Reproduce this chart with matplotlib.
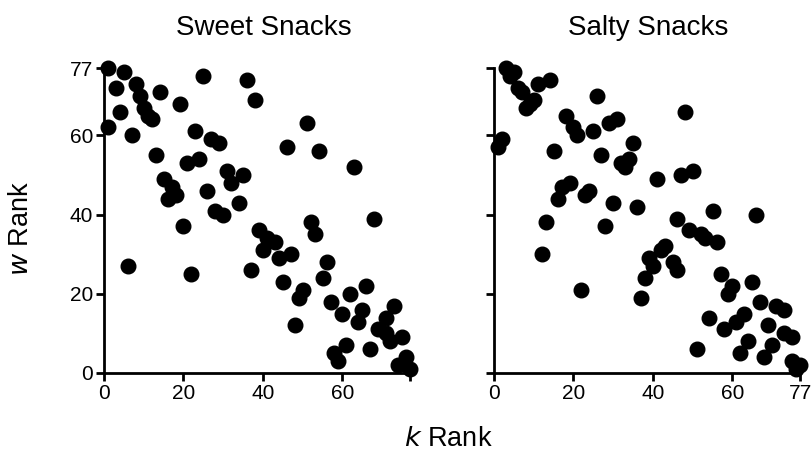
import numpy as np
import matplotlib.pyplot as plt

plt.rcParams["font.family"] = ["Liberation Sans", "DejaVu Sans"]

# k rank / w rank pairs
sweet_k = [1, 5, 3, 8, 9, 10, 11, 12, 14, 19, 4, 1, 7, 25, 36, 38, 13, 23, 27, 29,
           21, 24, 31, 35, 32, 15, 17, 18, 16, 26, 28, 30, 34, 20, 6, 22, 37, 39,
           40, 51, 46, 54, 63, 68, 52, 53, 41, 43, 47, 44, 56, 55, 45, 50, 49,
           57, 62, 66, 60, 65, 64, 48, 73, 71, 69, 71, 72, 75, 58, 59, 61, 67,
           76, 74, 77]
sweet_w = [77, 76, 72, 73, 70, 67, 65, 64, 71, 68, 66, 62, 60, 75, 74, 69, 55, 61,
           59, 58, 53, 54, 51, 50, 48, 49, 47, 45, 44, 46, 41, 40, 43, 37, 27, 25,
           26, 36, 31, 63, 57, 56, 52, 39, 38, 35, 34, 33, 30, 29, 28, 24, 23, 21,
           19, 18, 20, 22, 15, 16, 13, 12, 17, 14, 11, 10, 8, 9, 5, 3, 7, 6, 4, 2, 1]

salty_k = [3, 5, 4, 6, 7, 8, 9, 10, 11, 14, 2, 1, 18, 20, 21, 25, 26, 29, 31, 35,
           15, 27, 32, 34, 33, 17, 19, 16, 23, 24, 30, 36, 13, 28, 12, 22, 37,
           38, 39, 48, 41, 47, 50, 55, 66, 46, 49, 52, 53, 56, 43, 42, 45, 46,
           40, 57, 60, 59, 65, 67, 71, 73, 54, 58, 61, 63, 69, 73, 75, 51, 64,
           70, 62, 68, 75, 77, 76]
salty_w = [77, 76, 75, 72, 71, 67, 68, 69, 73, 74, 59, 57, 65, 62, 60, 61, 70, 63,
           64, 58, 56, 55, 53, 54, 52, 47, 48, 44, 45, 46, 43, 42, 38, 37, 30, 21,
           19, 24, 29, 66, 49, 50, 51, 41, 40, 39, 36, 35, 34, 33, 32, 31, 28, 26,
           27, 25, 22, 20, 23, 18, 17, 16, 14, 11, 13, 15, 12, 10, 9, 6, 8, 7, 5,
           4, 3, 2, 1]

titles = ["Sweet Snacks", "Salty Snacks"]
panels = [(sweet_k, sweet_w), (salty_k, salty_w)]

fig = plt.figure(figsize=(8.11, 4.53), dpi=100)
ax1 = fig.add_axes([104 / 811, 80 / 453, 306 / 811, 305 / 453])
ax2 = fig.add_axes([494 / 811, 80 / 453, 306 / 811, 305 / 453])

for i, ax in enumerate([ax1, ax2]):
    k, w = panels[i]
    ax.plot(k, w, "o", color="black", markersize=10.5, clip_on=False)
    ax.set_xlim(0, 77)
    ax.set_ylim(0, 77)
    ax.set_xticks([0, 20, 40, 60, 77])
    ax.set_yticks([0, 20, 40, 60, 77])
    if i == 0:
        ax.set_xticklabels(["0", "20", "40", "60", ""])
    else:
        ax.set_yticklabels([])
    for s in ["top", "right"]:
        ax.spines[s].set_visible(False)
    for s in ["left", "bottom"]:
        ax.spines[s].set_linewidth(2)
    ax.tick_params(width=2, length=6, labelsize=15, pad=2)

# panel titles
fig.text(264 / 811, 1 - 28 / 453, titles[0], fontsize=20, ha="center", va="center")
fig.text(648 / 811, 1 - 28 / 453, titles[1], fontsize=20, ha="center", va="center")

fig.text(21 / 811, 1 - 228 / 453, r"$\it{w}$ Rank", rotation=90,
         fontsize=19.5, ha="center", va="center")
fig.text(448 / 811, 1 - 439 / 453, r"$\it{k}$ Rank", fontsize=19.5,
         ha="center", va="center")

fig.savefig("out.png", dpi=100)
